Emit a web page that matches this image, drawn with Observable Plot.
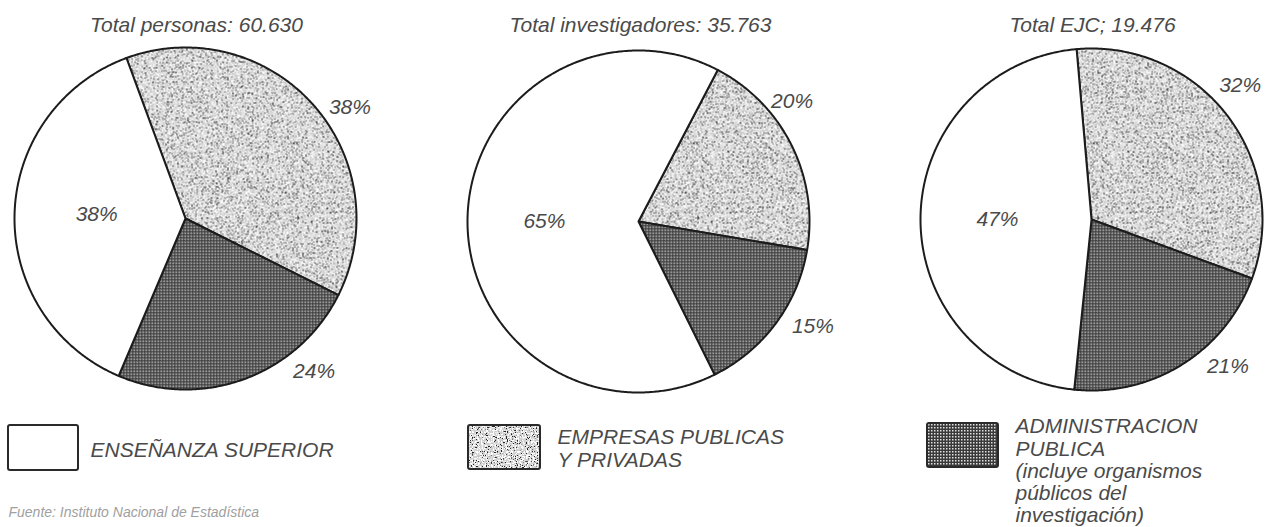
<!DOCTYPE html>
<html><head><meta charset="utf-8">
<script src="https://cdn.jsdelivr.net/npm/d3@7"></script>
<script src="https://cdn.jsdelivr.net/npm/@observablehq/plot@0.6"></script>
<style>body{margin:0;background:#fff}</style>
</head><body><div id="chart"></div>
<script>
// ---- data ----
const charts = ["Total personas: 60.630", "Total investigadores: 35.763", "Total EJC; 19.476"];
const sectors = ["EMPRESAS PUBLICAS Y PRIVADAS", "ADMINISTRACION PUBLICA", "ENSEÑANZA SUPERIOR"];
const personas = [38, 24, 38];
const investigadores = [20, 15, 65];
const ejc = [32, 21, 47];
const legendLabels = ["ENSEÑANZA SUPERIOR", "EMPRESAS PUBLICAS\nY PRIVADAS", "ADMINISTRACION\nPUBLICA\n(incluye organismos\npúblicos del\ninvestigación)"];
const legendSector = [2, 0, 1];
const source = "Fuente: Instituto Nacional de Estadística";

// ---- layout ----
const W = 1286, H = 527, R = 171;
const centers = [[185, 218], [638, 221], [1091, 219]];
const startAngles = [-20.2, 27.6, -5];
const titlePos = [[196, 25], [640, 25], [1092, 25]];
const labelPolar = [
  [[56, 1.16], [140, 1.17], [273, 0.52]],
  [[52, 1.14], [121, 1.19], [270, 0.55]],
  [[48, 1.17], [137, 1.17], [270, 0.55]]
];
const fills = ["url(#speckle)", "url(#checker)", "#ffffff"];
const swatches = [[8, 78, 425, 470], [468, 540, 425, 469], [927, 998, 423, 467]];
const legendTextPos = [[90, 440], [557, 427], [1015, 417]];
const legendLineHeight = [1.1, 1.1, 1.06];
const FONT = "'Liberation Sans', Arial, sans-serif";
const INK = "#4a4a4a";

const series = [personas, investigadores, ejc];
const rad = d => d * Math.PI / 180;

const slicePts = [];
const pctLabels = [];
series.forEach((vals, c) => {
  const [cx, cy] = centers[c];
  const arcs = d3.pie().sort(null)
    .startAngle(rad(startAngles[c])).endAngle(rad(startAngles[c] + 360))(vals);
  arcs.forEach((a, s) => {
    const id = c + "-" + s;
    slicePts.push({id, s, x: cx, y: cy});
    const n = Math.max(2, Math.ceil((a.endAngle - a.startAngle) / rad(0.5)));
    for (let k = 0; k <= n; k++) {
      const t = a.startAngle + (a.endAngle - a.startAngle) * k / n;
      slicePts.push({id, s, x: cx + R * Math.sin(t), y: cy - R * Math.cos(t)});
    }
    const [ang, rf] = labelPolar[c][s];
    pctLabels.push({text: vals[s] + "%", x: cx + rf * R * Math.sin(rad(ang)), y: cy - rf * R * Math.cos(rad(ang))});
  });
});

const titles = charts.map((t, i) => ({text: t, x: titlePos[i][0], y: titlePos[i][1]}));
const legend = legendLabels.map((t, i) => ({
  text: t, fill: fills[legendSector[i]],
  x1: swatches[i][0], x2: swatches[i][1], y1: swatches[i][2], y2: swatches[i][3],
  tx: legendTextPos[i][0], ty: legendTextPos[i][1]
}));

const textStyle = {fontFamily: FONT, fontStyle: "italic", fontSize: 21, fill: INK};

const plot = Plot.plot({
  width: W, height: H, margin: 0,
  x: {domain: [0, W], range: [0, W], axis: null},
  y: {domain: [0, H], range: [0, H], axis: null},
  style: {background: "#fff"},
  marks: [
    ...[0, 1, 2].map(k => Plot.line(slicePts, {
      filter: d => d.s === k, x: "x", y: "y", z: "id", curve: "linear-closed",
      fill: fills[k], stroke: "#1c1c1c", strokeWidth: 2, strokeLinejoin: "round"
    })),
    Plot.text(titles, {x: "x", y: "y", text: "text", ...textStyle}),
    Plot.text(pctLabels, {x: "x", y: "y", text: "text", ...textStyle}),
    ...legend.map(l => Plot.rect([l], {x1: "x1", x2: "x2", y1: "y1", y2: "y2", fill: l.fill, stroke: "#2a2a2a", strokeWidth: 2, rx: 2})),
    ...legend.map((l, i) => Plot.text([l], {x: "tx", y: "ty", text: "text", textAnchor: "start", lineAnchor: "top", lineHeight: legendLineHeight[i], ...textStyle})),
    Plot.text([source], {x: () => 8, y: () => 507, text: d => d, textAnchor: "start", lineAnchor: "top", fontFamily: FONT, fontStyle: "italic", fontSize: 14, fill: "#a0a0a0"})
  ]
});

plot.insertAdjacentHTML("afterbegin", `
<defs>
  <filter id="darkSpecks" x="0" y="0" width="1" height="1" color-interpolation-filters="sRGB">
    <feTurbulence type="fractalNoise" baseFrequency="0.8" numOctaves="2" seed="4"/>
    <feColorMatrix type="matrix" values="0 0 0 0 0.15  0 0 0 0 0.15  0 0 0 0 0.15  -16 0 0 0 6.0"/>
  </filter>
  <filter id="lightSpecks" x="0" y="0" width="1" height="1" color-interpolation-filters="sRGB">
    <feTurbulence type="fractalNoise" baseFrequency="0.6" numOctaves="2" seed="9"/>
    <feColorMatrix type="matrix" values="0 0 0 0 1  0 0 0 0 1  0 0 0 0 1  0 10 0 0 -4.8"/>
  </filter>
  <pattern id="speckle" patternUnits="userSpaceOnUse" width="400" height="400">
    <rect width="400" height="400" fill="#cfcfcf"/>
    <rect width="400" height="400" fill="#000" filter="url(#lightSpecks)"/>
    <rect width="400" height="400" fill="#000" filter="url(#darkSpecks)"/>
  </pattern>
  <pattern id="checker" patternUnits="userSpaceOnUse" width="3" height="3">
    <rect width="3" height="3" fill="#3a3a3a"/>
    <rect x="1" y="1" width="1.5" height="1.5" fill="#e0e0e0"/>
  </pattern>
</defs>`);
document.getElementById("chart").appendChild(plot);
</script>
</body></html>
